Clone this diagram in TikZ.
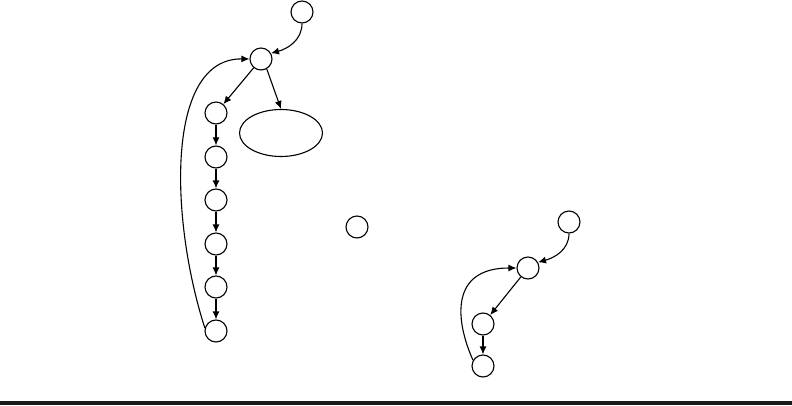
\documentclass[tikz,border=0pt]{standalone}
\usetikzlibrary{shapes.geometric,arrows.meta}
\tikzset{st/.style={draw,circle,minimum size=22pt,inner sep=0pt},
	blob/.style={draw,ellipse,minimum width=83pt,minimum height=47pt,inner sep=0pt},
	arr/.style={-{Latex[length=8pt,width=7pt]}}}
\begin{document}
\begin{tikzpicture}[x=1pt,y=1pt,line width=1.1pt]
	\useasboundingbox (0,0) rectangle (792,405);
	\node[st] (t0) at (302,393) {};
	\node[st] (a) at (261,346) {};
	\node[st] (c1) at (216,292) {};
	\node[st] (c2) at (216,248) {};
	\node[st] (c3) at (216,205) {};
	\node[st] (c4) at (216,161) {};
	\node[st] (c5) at (216,118) {};
	\node[st] (c6) at (216,74) {};
	\node[blob] (e) at (281,272) {};
	\node[st] (lone) at (357,178) {};
	\draw[arr] (t0) to[out=-90,in=15] (a.30);
	\draw[arr] (a) -- (c1);
	\draw[arr] (a.-60) -- (e.north);
	\draw[arr] (c1) -- (c2);
	\draw[arr] (c2) -- (c3);
	\draw[arr] (c3) -- (c4);
	\draw[arr] (c4) -- (c5);
	\draw[arr] (c5) -- (c6);
	\draw[arr] (c6.165) .. controls (170,185) and (165,347) .. (a.west);
	% second graph
	\begin{scope}
	\node[st] (r0) at (569,183) {};
	\node[st] (r1) at (528,137) {};
	\node[st] (r2) at (483,81) {};
	\node[st] (r3) at (483,39) {};
	\draw[arr] (r0) to[out=-90,in=15] (r1.30);
	\draw[arr] (r1) -- (r2);
	\draw[arr] (r2) -- (r3);
	\draw[arr] (r3.150) .. controls (455,85) and (450,137) .. (r1.west);
	\end{scope}
	\fill[black!90] (0,0) rectangle (792,4);
\end{tikzpicture}
\end{document}
